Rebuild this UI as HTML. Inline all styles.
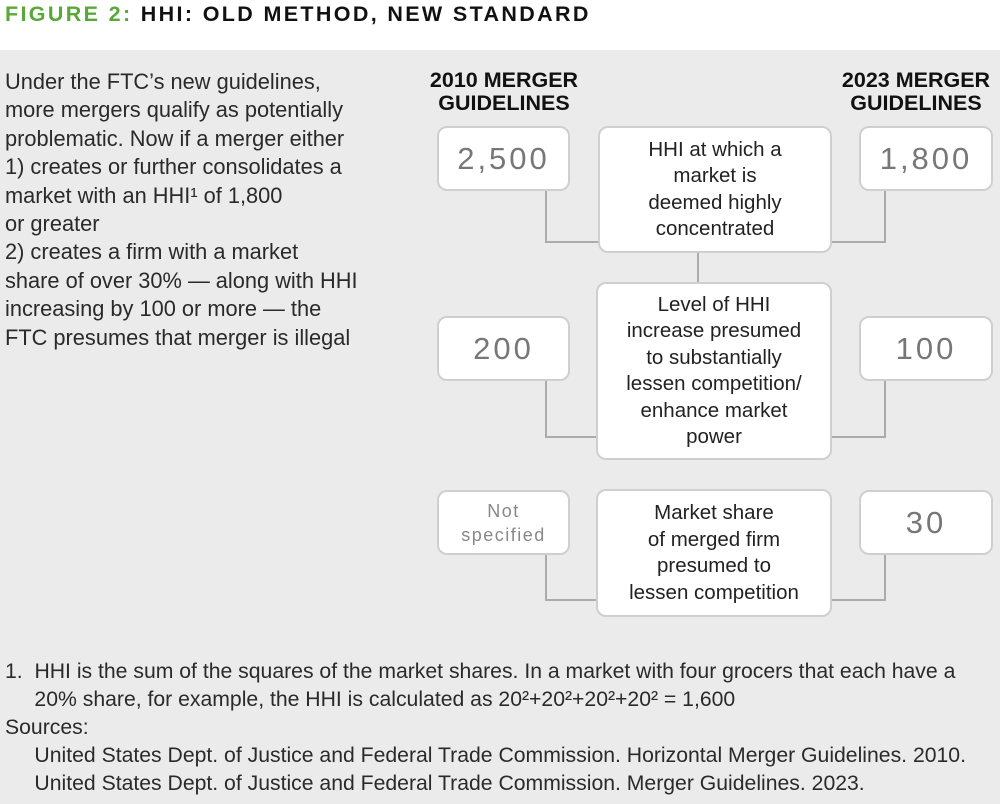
<!DOCTYPE html>
<html><head><meta charset="utf-8"><style>
body{margin:0;width:1000px;height:804px;position:relative;background:#ebebec;font-family:"Liberation Sans",sans-serif;color:#222;overflow:hidden}
.top{position:absolute;left:0;top:0;width:1000px;height:50px;background:#fff}
.title{position:absolute;left:5px;top:2px;font-size:21.5px;font-weight:bold;letter-spacing:2.35px;color:#111}
.title span{color:#5aa83a}
.p{position:absolute;left:5px;top:68px;font-size:21.8px;line-height:28.4px;color:#2a2a2a;white-space:pre}
.hd{position:absolute;font-size:21.5px;font-weight:bold;line-height:23px;text-align:center;color:#111}
.b{position:absolute;background:#fff;border:2px solid #cfcfd1;border-radius:10px;box-sizing:border-box;display:flex;align-items:center;justify-content:center;text-align:center}
.num{font-size:31px;letter-spacing:3px;color:#777}
.mid{font-size:20.5px;line-height:26.5px;color:#222}
.ln{position:absolute;background:#a9abad}
.fn{position:absolute;left:5px;font-size:21.2px;line-height:28px;color:#2a2a2a;white-space:pre}
</style></head><body>
<div class="top"></div>
<div class="title"><span>FIGURE 2:</span> HHI: OLD METHOD, NEW STANDARD</div>
<div class="p">Under the FTC’s new guidelines,
more mergers qualify as potentially
problematic. Now if a merger either
1) creates or further consolidates a
market with an HHI¹ of 1,800
or greater
2) creates a firm with a market
share of over 30% — along with HHI
increasing by 100 or more — the
FTC presumes that merger is illegal</div>
<div class="hd" style="left:414px;top:69px;width:180px">2010 MERGER<br>GUIDELINES</div>
<div class="hd" style="left:826px;top:69px;width:180px">2023 MERGER<br>GUIDELINES</div>

<div class="ln" style="left:545px;top:188px;width:2px;height:55px"></div>
<div class="ln" style="left:545px;top:241px;width:55px;height:2px"></div>
<div class="ln" style="left:884px;top:188px;width:2px;height:55px"></div>
<div class="ln" style="left:830px;top:241px;width:56px;height:2px"></div>
<div class="ln" style="left:697px;top:250px;width:2px;height:34px"></div>
<div class="ln" style="left:545px;top:378px;width:2px;height:60px"></div>
<div class="ln" style="left:545px;top:436px;width:55px;height:2px"></div>
<div class="ln" style="left:884px;top:378px;width:2px;height:60px"></div>
<div class="ln" style="left:830px;top:436px;width:56px;height:2px"></div>
<div class="ln" style="left:545px;top:552px;width:2px;height:49px"></div>
<div class="ln" style="left:545px;top:599px;width:55px;height:2px"></div>
<div class="ln" style="left:884px;top:552px;width:2px;height:49px"></div>
<div class="ln" style="left:830px;top:599px;width:56px;height:2px"></div>

<div class="b num" style="left:437px;top:126px;width:133px;height:65px">2,500</div>
<div class="b num" style="left:437px;top:316px;width:133px;height:65px">200</div>
<div class="b" style="left:437px;top:490px;width:133px;height:65px;font-size:18px;letter-spacing:1.5px;color:#888;line-height:24px">Not<br>specified</div>
<div class="b num" style="left:859px;top:126px;width:134px;height:65px">1,800</div>
<div class="b num" style="left:859px;top:316px;width:134px;height:65px">100</div>
<div class="b num" style="left:859px;top:490px;width:134px;height:65px">30</div>

<div class="b mid" style="left:598px;top:126px;width:234px;height:127px">HHI at which a<br>market is<br>deemed highly<br>concentrated</div>
<div class="b mid" style="left:596px;top:282px;width:236px;height:178px">Level of HHI<br>increase presumed<br>to substantially<br>lessen competition/<br>enhance market<br>power</div>
<div class="b mid" style="left:596px;top:489px;width:236px;height:128px">Market share<br>of merged firm<br>presumed to<br>lessen competition</div>

<div class="fn" style="top:658px">1.  HHI is the sum of the squares of the market shares. In a market with four grocers that each have a
     20% share, for example, the HHI is calculated as 20²+20²+20²+20² = 1,600
Sources:
     United States Dept. of Justice and Federal Trade Commission. Horizontal Merger Guidelines. 2010.
     United States Dept. of Justice and Federal Trade Commission. Merger Guidelines. 2023.</div>
</body></html>
